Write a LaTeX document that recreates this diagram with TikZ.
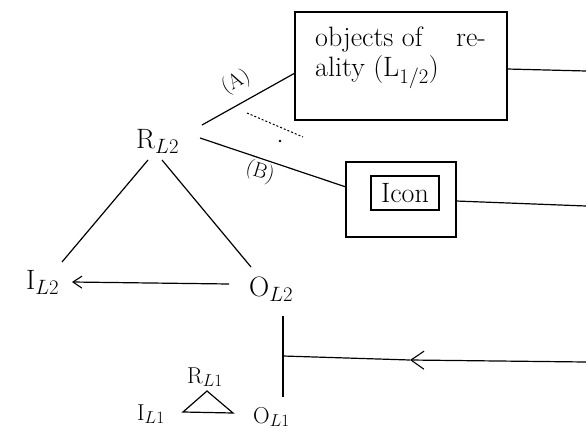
\documentclass[tikz,border=0pt]{standalone}
\usetikzlibrary{arrows.meta}
\begin{document}
\begin{tikzpicture}[x=1pt,y=-1pt,
  lbl/.style={inner sep=0pt, font=\fontsize{28}{30}\selectfont},
  slbl/.style={inner sep=0pt, font=\fontsize{23}{25}\selectfont},
  tag/.style={inner sep=0pt, font=\fontsize{21}{23}\selectfont},
  ln/.style={line width=1.2pt},
  framebox/.style={draw, line width=1.4pt, inner sep=0pt},
  arr/.style={ln, -{Straight Barb[length=9pt,width=12pt,line width=1.1pt]}},
  midarr/.style={ln, -{Straight Barb[length=13pt,width=18pt,line width=1.1pt]}},
  scribble/.style={line width=1pt, dash pattern=on 2pt off 2pt}
]
\clip (0,0) rectangle (586,428);
% level 2 triangle labels
\node[lbl, anchor=base west] (RL2) at (136,148) {R$_{L2}$};
\node[lbl, anchor=base west] (IL2) at (26,289) {I$_{L2}$};
\node[lbl, anchor=base west] (OL2) at (249,296) {O$_{L2}$};
% level 1 triangle labels
\node[slbl, anchor=base west] (RL1) at (187,383) {R$_{L1}$};
\node[slbl, anchor=base west] (IL1) at (137,420) {I$_{L1}$};
\node[slbl, anchor=base west] (OL1) at (253,423) {O$_{L1}$};
% boxes
\node[framebox, minimum width=212pt, minimum height=108pt] (obj) at (401,66) {};
\node[lbl, anchor=base west, align=left] (objtext) at (315,77)
  {objects of\hspace{1.2em}re-\\ality (L$_{1/2}$)};
\node[framebox, minimum width=110pt, minimum height=75pt] (iconbox) at (401,199.5) {};
\node[framebox, lbl, minimum width=68pt, minimum height=34pt] (icon) at (405,193) {Icon};
% connector coordinates
\coordinate (rA) at (202,125);
\coordinate (bA) at (295,73);
\coordinate (rB) at (200,138);
\coordinate (bB) at (346,187);
\coordinate (rl) at (148,160);
\coordinate (il) at (62,262);
\coordinate (rr) at (162,160);
\coordinate (or) at (251,267);
\coordinate (oa) at (229,284);
\coordinate (ia) at (72,282);
\coordinate (objout) at (507,69);
\coordinate (objend) at (586,71);
\coordinate (iconout) at (456,201);
\coordinate (iconend) at (586,206);
\coordinate (vtop) at (283,316);
\coordinate (vbot) at (283,397);
\coordinate (hjoin) at (283,356);
\coordinate (hmid) at (410,360);
\coordinate (hend) at (586,362);
\coordinate (t1) at (207,391);
\coordinate (t2) at (183,412);
\coordinate (t3) at (233,413);
\coordinate (s1) at (247,113);
\coordinate (s2) at (303,137);
% lines
\draw[ln] (rA) -- (bA);
\draw[ln] (rB) -- (bB);
\draw[ln] (rl) -- (il);
\draw[ln] (rr) -- (or);
\draw[arr] (oa) -- (ia);
\draw[ln] (objout) -- (objend);
\draw[ln] (iconout) -- (iconend);
\draw[ln] (vtop) -- (vbot);
\draw[midarr] (hend) -- (hmid);
\draw[ln] (hmid) -- (hjoin);
\draw[ln] (t1) -- (t2) -- (t3) -- cycle;
\draw[scribble] (s1) -- (s2);
\fill (280,141) circle (1.3pt);
% labels on lines
\node[tag, rotate=29] (labA) at (236,82) {(A)};
\node[tag, rotate=-17] (labB) at (260,172) {(B)};
\end{tikzpicture}
\end{document}
